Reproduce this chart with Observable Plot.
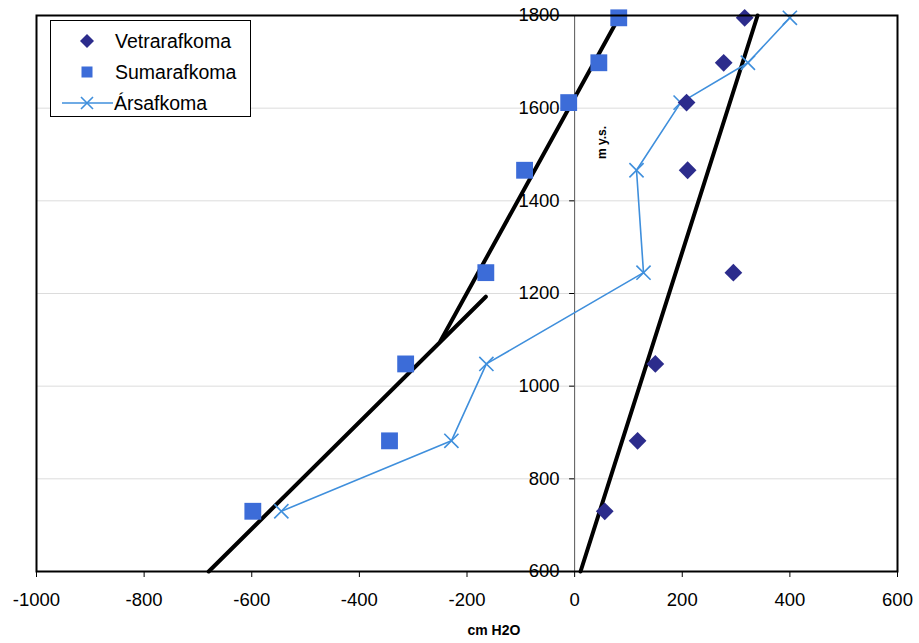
<!DOCTYPE html>
<html><head><meta charset="utf-8">
<script src="https://cdn.jsdelivr.net/npm/d3@7"></script>
<script src="https://cdn.jsdelivr.net/npm/@observablehq/plot@0.6"></script>
<style>
body{margin:0;background:#fff;font-family:"Liberation Sans",Arial,sans-serif;}
#wrap{position:relative;width:919px;height:643px;}
#legend{position:absolute;left:50px;top:20px;}
</style></head>
<body><div id="wrap"></div>
<script>
// Elevation (m y.s.) of the measurement points
const elev = [730, 882, 1048, 1245, 1466, 1612, 1698, 1795];
// cm H2O values per season
const vetrar = [56, 117, 150, 295, 210, 208, 277, 316];
const sumar = [-598, -344, -314, -165, -93, -11, 45, 82];
const arsaf = [-545, -229, -164, 128, 115, 197, 322, 400];
// Hand-drawn trend lines (endpoints)
const trendSumarLowX = [-680, -165];
const trendSumarLowY = [600, 1193];
const trendSumarHighX = [-249, 82];
const trendSumarHighY = [1098, 1795];
const trendVetrarX = [11, 340];
const trendVetrarY = [600, 1800];
// Axis ticks
const xTicks = [-1000, -800, -600, -400, -200, 0, 200, 400, 600];
const yTicks = [600, 800, 1000, 1200, 1400, 1600, 1800];
const gridY = [800, 1000, 1200, 1400, 1600];
const seriesNames = ["Vetrarafkoma", "Sumarafkoma", "Ársafkoma"];
const colVetrar = "#2c2c8c", colSumar = "#3c6cd8", colArsaf = "#3f8fdc";

const chart = Plot.plot({
  width: 919, height: 643,
  marginLeft: 36, marginRight: 22, marginTop: 15, marginBottom: 72,
  style: {fontFamily: "'Liberation Sans', Arial, sans-serif", fontSize: "18.5px", background: "white", color: "black"},
  x: {domain: [-1000, 600]},
  y: {domain: [600, 1800]},
  marks: [
    Plot.ruleY(gridY, {stroke: "#dcdcdc", strokeWidth: 1}),
    Plot.ruleX([0], {stroke: "#555", strokeWidth: 1}),
    Plot.axisX(xTicks, {tickSize: 6, tickPadding: 15, label: null, tickFormat: d => String(d), fontSize: 18.5}),
    Plot.axisY(yTicks, {x: 0, anchor: "left", tickSize: 5, tickPadding: 10, label: null, tickFormat: d => String(d), fontSize: 18.5}),
    Plot.text(["m y.s."], {x: 0, frameAnchor: "top", dy: 127, dx: 23, rotate: -90, fontWeight: "bold", fontSize: 12}),
    Plot.text(["cm H2O"], {frameAnchor: "bottom-left", dx: 431, dy: 63, textAnchor: "start", fontWeight: "bold", fontSize: 14}),
    Plot.line(trendSumarLowX, {x: trendSumarLowX, y: trendSumarLowY, stroke: "black", strokeWidth: 4}),
    Plot.line(trendSumarHighX, {x: trendSumarHighX, y: trendSumarHighY, stroke: "black", strokeWidth: 4}),
    Plot.line(trendVetrarX, {x: trendVetrarX, y: trendVetrarY, stroke: "black", strokeWidth: 4}),
    Plot.line(elev, {x: arsaf, y: elev, stroke: colArsaf, strokeWidth: 1.6}),
    Plot.dot(elev, {x: arsaf, y: elev, symbol: "times", r: 6.5, stroke: colArsaf, strokeWidth: 1.6}),
    Plot.dot(elev, {x: sumar, y: elev, symbol: "square", r: 9.5, fill: colSumar}),
    Plot.dot(elev, {x: vetrar, y: elev, symbol: "diamond2", r: 8, fill: colVetrar}),
    Plot.frame({stroke: "black", strokeWidth: 2})
  ]
});
const wrap = document.getElementById("wrap");
wrap.appendChild(chart);

// Legend
const ns = "http://www.w3.org/2000/svg";
const lg = document.createElementNS(ns, "svg");
lg.setAttribute("id", "legend");
lg.setAttribute("width", 202); lg.setAttribute("height", 98);
const tf = "font-size=\"19.5\" font-family=\"'Liberation Sans', Arial, sans-serif\"";
lg.innerHTML = `
<rect x="0.5" y="0.5" width="200" height="96" fill="white" stroke="black" stroke-width="1"/>
<path d="M37,14 L44,21 L37,28 L30,21 Z" fill="${colVetrar}"/>
<rect x="31.5" y="46.5" width="11" height="11" fill="${colSumar}"/>
<line x1="12" x2="63" y1="83" y2="83" stroke="${colArsaf}" stroke-width="1.6"/>
<path d="M31,77 L43,89 M31,89 L43,77" stroke="${colArsaf}" stroke-width="1.6"/>
<text x="65" y="28" ${tf}>${seriesNames[0]}</text>
<text x="65" y="59" ${tf}>${seriesNames[1]}</text>
<text x="64" y="90" ${tf}>${seriesNames[2]}</text>`;
wrap.appendChild(lg);
</script>
</body></html>
